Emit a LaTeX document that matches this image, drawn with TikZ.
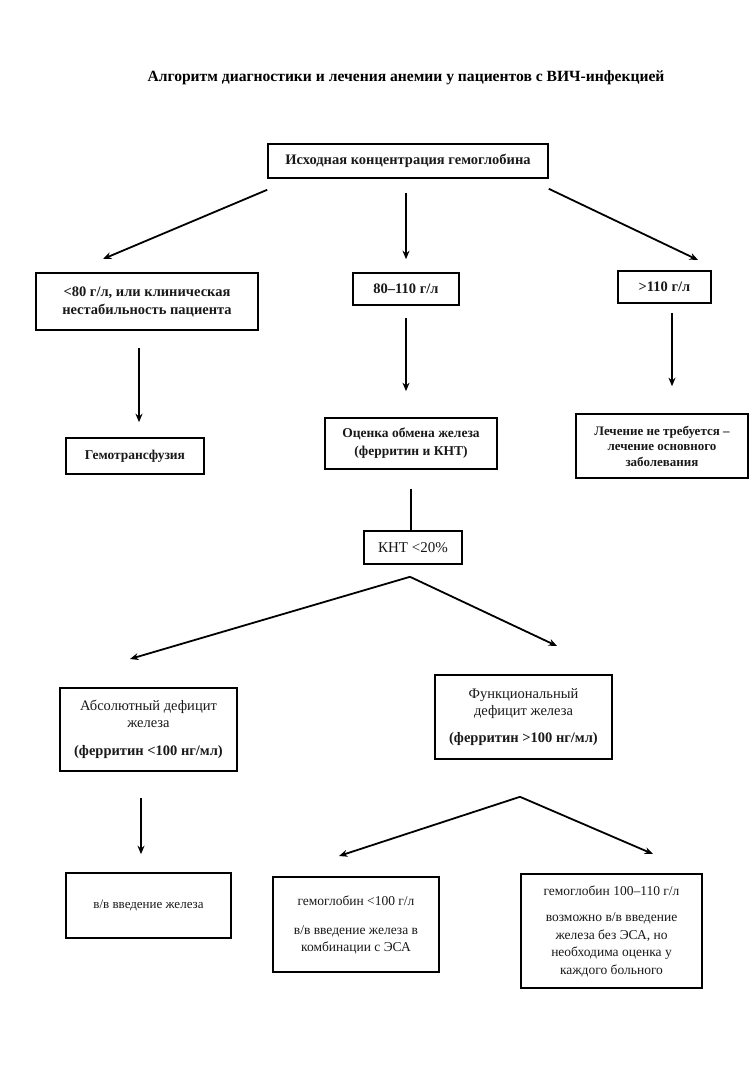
\documentclass[tikz,border=0pt]{standalone}
\usepackage{fontspec}
\setmainfont{Liberation Serif}
\usetikzlibrary{arrows.meta}
\begin{document}
\begin{tikzpicture}[x=1pt,y=-1pt,
  box/.style={draw=black, line width=1.6pt, inner sep=0pt, align=center, text=black!90},
  arr/.style={line width=1.8pt, -{Stealth[length=8.5pt,width=7pt]}},
  plain/.style={line width=2pt}
]
\useasboundingbox (0,0) rectangle (752,1078);
\fill[white] (0,0) rectangle (752,1078);

\node[font=\bfseries\fontsize{15.6}{18}\selectfont] (title) at (406,78) {Алгоритм диагностики и лечения анемии у пациентов с ВИЧ-инфекцией};

\node[box, minimum width=280, minimum height=34, font=\bfseries\fontsize{14.5}{17}\selectfont] (top) at (408,161) {Исходная концентрация гемоглобина};

\node[box, minimum width=222, minimum height=57, font=\bfseries\fontsize{14.5}{18}\selectfont] (low) at (147,301.5) {<80 г/л, или клиническая\\нестабильность пациента};
\node[box, minimum width=106, minimum height=32, font=\bfseries\fontsize{14.5}{18}\selectfont] (mid) at (406,289) {80–110 г/л};
\node[box, minimum width=93, minimum height=32, font=\bfseries\fontsize{14.5}{18}\selectfont] (high) at (664.5,287) {>110 г/л};

\node[box, minimum width=138, minimum height=36, font=\bfseries\fontsize{13.5}{16}\selectfont] (transf) at (135,456) {Гемотрансфузия};
\node[box, minimum width=172, minimum height=51, font=\bfseries\fontsize{13.5}{18}\selectfont] (iron) at (411,443.5) {Оценка обмена железа\\(ферритин и КНТ)};
\node[box, minimum width=172, minimum height=64, font=\bfseries\fontsize{13}{15.5}\selectfont] (notreat) at (662,446) {Лечение не требуется –\\лечение основного\\заболевания};

\node[box, minimum width=98, minimum height=33, font=\fontsize{15}{18}\selectfont] (tsat) at (413,547.5) {КНТ <20\%};

\node[box, minimum width=177, minimum height=83, font=\fontsize{14.5}{17}\selectfont] (abs) at (148.5,729.5) {Абсолютный дефицит\\железа\\[11pt]\textbf{(ферритин <100 нг/мл)}};
\node[box, minimum width=177, minimum height=84, font=\fontsize{14.5}{17}\selectfont] (func) at (523.5,717) {Функциональный\\дефицит железа\\[10pt]\textbf{(ферритин >100 нг/мл)}};

\node[box, minimum width=165, minimum height=65, font=\fontsize{13}{16}\selectfont] (ivfe) at (148.5,905.5) {в/в введение железа};
\node[box, minimum width=166, minimum height=95, font=\fontsize{13.5}{17}\selectfont] (lt) at (356,924.5) {гемоглобин <100 г/л\\[12pt]в/в введение железа в\\комбинации с ЭСА};
\node[box, minimum width=181, minimum height=114, font=\fontsize{13.5}{17.5}\selectfont] (mid2) at (611.5,931) {гемоглобин 100–110 г/л\\[9pt]возможно в/в введение\\железа без ЭСА, но\\необходима оценка у\\каждого больного};

% free ends and split points
\coordinate (lowIn) at (103,259);
\coordinate (highIn) at (698,260);
\coordinate (split1) at ([xshift=-3pt,yshift=-12pt]tsat.south);
\coordinate (absIn) at (130,659);
\coordinate (funcIn) at (557,646);
\coordinate (split2) at ([xshift=-3.5pt,yshift=-37pt]func.south);
\coordinate (ltIn) at (339,856);
\coordinate (mid2In) at (653,854);

\draw[arr] ([yshift=-11pt]top.south west) -- (lowIn);
\draw[arr] ([xshift=-2pt,yshift=-14pt]top.south) -- ([yshift=13pt]mid.north);
\draw[arr] ([yshift=-10pt]top.south east) -- (highIn);

\draw[arr] ([xshift=-8pt,yshift=-17pt]low.south) -- ([xshift=4pt,yshift=15pt]transf.north);
\draw[arr] ([yshift=-12pt]mid.south) -- ([xshift=-5pt,yshift=26pt]iron.north);
\draw[arr] ([xshift=7.5pt,yshift=-9pt]high.south) -- ([xshift=10pt,yshift=27pt]notreat.north);

\draw[plain] ([yshift=-19pt]iron.south) -- ([xshift=-2pt]tsat.north);

\draw[arr] (split1) -- (absIn);
\draw[arr] (split1) -- (funcIn);

\draw[arr] ([xshift=-7.5pt,yshift=-26pt]abs.south) -- ([xshift=-7.5pt,yshift=18pt]ivfe.north);

\draw[arr] (split2) -- (ltIn);
\draw[arr] (split2) -- (mid2In);
\end{tikzpicture}
\end{document}
